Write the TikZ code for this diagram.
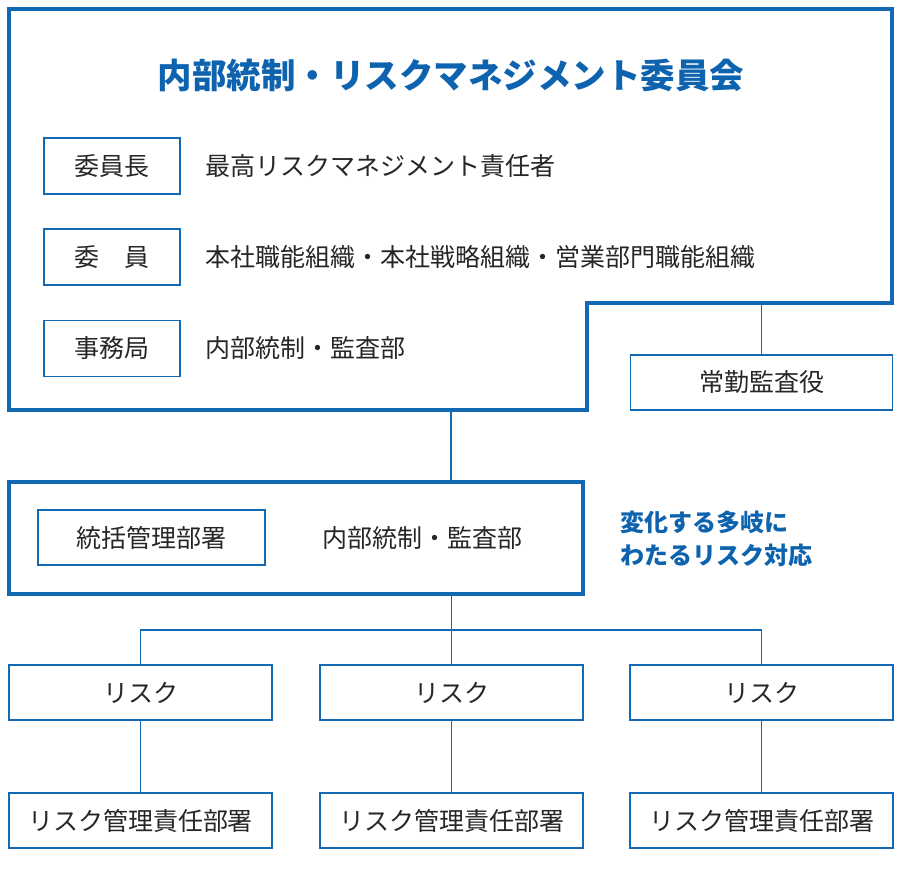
\documentclass[tikz,border=0pt]{standalone}
\usepackage{fontspec}
\setmainfont{Noto Sans CJK JP}
\definecolor{lblue}{HTML}{1268B3}
\definecolor{tblue}{HTML}{0E63AF}
\definecolor{txt}{HTML}{262626}
\tikzset{
  thickline/.style={draw=lblue, line width=3.4pt},
  thinline/.style={draw=lblue, line width=1.7pt},
  box/.style={draw=lblue, line width=1.7pt, rectangle, inner sep=0pt, minimum height=55pt, text=txt, font=\fontsize{25}{29}\selectfont},
  plain/.style={inner sep=0pt, text=txt, font=\fontsize{25}{29}\selectfont},
  bluebold/.style={inner sep=0pt, text=tblue, font=\bfseries\fontsize{24}{33}\selectfont, align=left},
}
\begin{document}
\begin{tikzpicture}[x=1pt,y=-1pt]
\useasboundingbox (0,0) rectangle (900,869);
% committee outline
\draw[thickline, line join=miter] (9,9) -- (892,9) -- (892,303) -- (587,303) -- (587,410) -- (9,410) -- cycle;
\coordinate (comB) at (451,410);
\coordinate (notch) at (761.5,303);
\node[inner sep=0pt, text=tblue, font=\bfseries\fontsize{34.5}{40}\selectfont] (title) at (451,75) {内部統制・リスクマネジメント委員会};
\node[box, minimum width=136pt, minimum height=56pt] (chair) at (112,166) {委員長};
\node[box, minimum width=136pt, minimum height=56pt] (memb) at (112,257) {委　員};
\node[box, minimum width=136pt, minimum height=56pt] (secr) at (112,348.5) {事務局};
\node[plain, anchor=west] (chairT) at (205,166) {最高リスクマネジメント責任者};
\node[plain, anchor=west] (membT) at (205,257) {本社職能組織・本社戦略組織・営業部門職能組織};
\node[plain, anchor=west] (secrT) at (205,348.5) {内部統制・監査部};
% auditor
\node[box, minimum width=262pt] (aud) at (761.5,382.5) {常勤監査役};
\draw[thinline] (notch) -- (aud.north);
% control box
\node[draw=lblue, line width=3.4pt, rectangle, inner sep=0pt, minimum width=574pt, minimum height=112pt] (ctrl) at (296,538) {};
\draw[thinline] (comB) -- (ctrl.north -| comB);
\node[box, minimum width=227pt] (gen) at (151.5,537.5) {統括管理部署};
\node[plain] (genT) at (422,538) {内部統制・監査部};
\node[bluebold, anchor=west] (side) at (620,539) {変化する多岐に\\わたるリスク対応};
% risks
\node[box, minimum width=263pt] (r1) at (140.5,692.5) {リスク};
\node[box, minimum width=263pt] (r2) at (451.5,692.5) {リスク};
\node[box, minimum width=263pt] (r3) at (761.5,692.5) {リスク};
\node[box, minimum width=263pt] (d1) at (140.5,820.5) {リスク管理責任部署};
\node[box, minimum width=263pt] (d2) at (451.5,820.5) {リスク管理責任部署};
\node[box, minimum width=263pt] (d3) at (761.5,820.5) {リスク管理責任部署};
\coordinate (bus) at (451.5,630);
\draw[thinline] (ctrl.south -| bus) -- (r2.north);
\draw[thinline] (r1.north) -- (r1.north |- bus) -- (r3.north |- bus) -- (r3.north);
\draw[thinline] (r1.south) -- (d1.north);
\draw[thinline] (r2.south) -- (d2.north);
\draw[thinline] (r3.south) -- (d3.north);
\end{tikzpicture}
\end{document}
